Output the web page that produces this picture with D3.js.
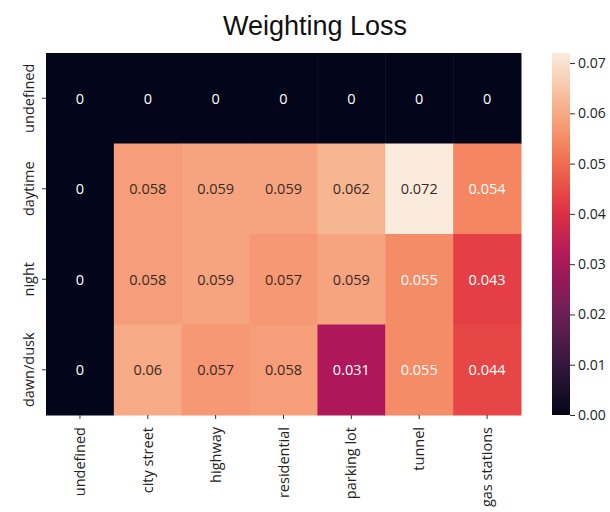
<!DOCTYPE html>
<html><head><meta charset="utf-8">
<script src="https://cdn.jsdelivr.net/npm/d3@7"></script>
<style>body{margin:0;background:#fff;} text{font-family:"Open Sans","Noto Sans",sans-serif;}</style>
</head><body><svg id="c" width="610" height="512"></svg>
<script>
const rows = ["undefined","daytime","night","dawn/dusk"];
const cols = ["undefined","city street","highway","residential","parking lot","tunnel","gas stations"];
const valsUndefined = [0,0,0,0,0,0,0];
const valsDaytime = [0,0.058,0.059,0.059,0.062,0.072,0.054];
const valsNight = [0,0.058,0.059,0.057,0.059,0.055,0.043];
const valsDawnDusk = [0,0.06,0.057,0.058,0.031,0.055,0.044];
const values = [valsUndefined, valsDaytime, valsNight, valsDawnDusk];
const cbTicks = [0,0.01,0.02,0.03,0.04,0.05,0.06,0.07];
const vmin = 0, vmax = 0.072;

const rocketStops = ["#03051a","#35193e","#701f57","#ad1759","#e13342","#f37651","#f6b48f","#faebdd"];
const rocketPos = [0,1/7,2/7,3/7,4/7,5/7,6/7,1];
const rocket = d3.scaleLinear().domain(rocketPos).range(rocketStops).interpolate(d3.interpolateRgb);
const color = v => rocket((v - vmin)/(vmax - vmin));

const svg = d3.select("#c");
const L=46, R=521, T=53, B=415;
const x = d3.scaleBand().domain(cols).range([L,R]);
const y = d3.scaleBand().domain(rows).range([T,B]);

svg.append("text").attr("x",315).attr("y",35).attr("text-anchor","middle")
  .style("font-family","'Liberation Sans',Arial,sans-serif").style("font-size","27px").attr("fill","#111").text("Weighting Loss");

const cells = [];
rows.forEach((r,i)=>cols.forEach((c,j)=>cells.push({r,c,v:values[i][j]})));

svg.append("g").selectAll("rect").data(cells).join("rect")
  .attr("x",d=>x(d.c)).attr("y",d=>y(d.r)).attr("width",x.bandwidth()+0.5).attr("height",y.bandwidth()+0.5)
  .attr("fill",d=>color(d.v));

function lum(hex){
  const c=d3.rgb(hex); const f=u=>{u/=255;return u<=0.03928?u/12.92:Math.pow((u+0.055)/1.055,2.4);};
  return 0.2126*f(c.r)+0.7152*f(c.g)+0.0722*f(c.b);
}
svg.append("g").selectAll("text").data(cells).join("text")
  .attr("x",d=>x(d.c)+x.bandwidth()/2).attr("y",d=>y(d.r)+y.bandwidth()/2)
  .attr("text-anchor","middle").attr("dominant-baseline","central")
  .style("font-size","14.5px")
  .attr("fill",d=>lum(color(d.v))>0.408?"#3a2a25":"#fff")
  .text(d=>String(d.v));

// x axis
const xa = svg.append("g").attr("transform",`translate(0,${B})`)
  .call(d3.axisBottom(x).tickSize(4).tickPadding(4));
xa.select(".domain").remove();
xa.selectAll("line").attr("stroke","#333");
xa.selectAll("text").attr("transform","rotate(-90)").attr("text-anchor","end")
  .attr("x",-12).attr("y",0).attr("dy","0.35em").style("font-size","14.5px").attr("fill","#222")
  .style("font-family","'Open Sans',sans-serif");

// y axis
const ya = svg.append("g").attr("transform",`translate(${L},0)`)
  .call(d3.axisLeft(y).tickSize(4).tickPadding(4));
ya.select(".domain").remove();
ya.selectAll("line").attr("stroke","#333");
ya.selectAll("text").attr("transform","rotate(-90)").attr("text-anchor","middle")
  .attr("x",0).attr("y",-12).attr("dy","0em").style("font-size","14.5px").attr("fill","#222")
  .style("font-family","'Open Sans',sans-serif");

// colorbar
const cbX=552, cbW=18;
const cy = d3.scaleLinear().domain([vmin,vmax]).range([B,T]);
const defs = svg.append("defs");
const grad = defs.append("linearGradient").attr("id","g").attr("x1",0).attr("y1",1).attr("x2",0).attr("y2",0);
d3.range(0,1.0001,0.05).forEach(t=>grad.append("stop").attr("offset",t).attr("stop-color",rocket(t)));
svg.append("rect").attr("x",cbX).attr("y",T).attr("width",cbW).attr("height",B-T).attr("fill","url(#g)");
const ca = svg.append("g").attr("transform",`translate(${cbX+cbW},0)`)
  .call(d3.axisRight(cy).tickValues(cbTicks).tickFormat(d3.format(".2f")).tickSize(5).tickPadding(3));
ca.select(".domain").remove();
ca.selectAll("line").attr("stroke","#333");
ca.selectAll("text").style("font-size","14px").attr("fill","#222").style("font-family","'Open Sans',sans-serif");
</script></body></html>
